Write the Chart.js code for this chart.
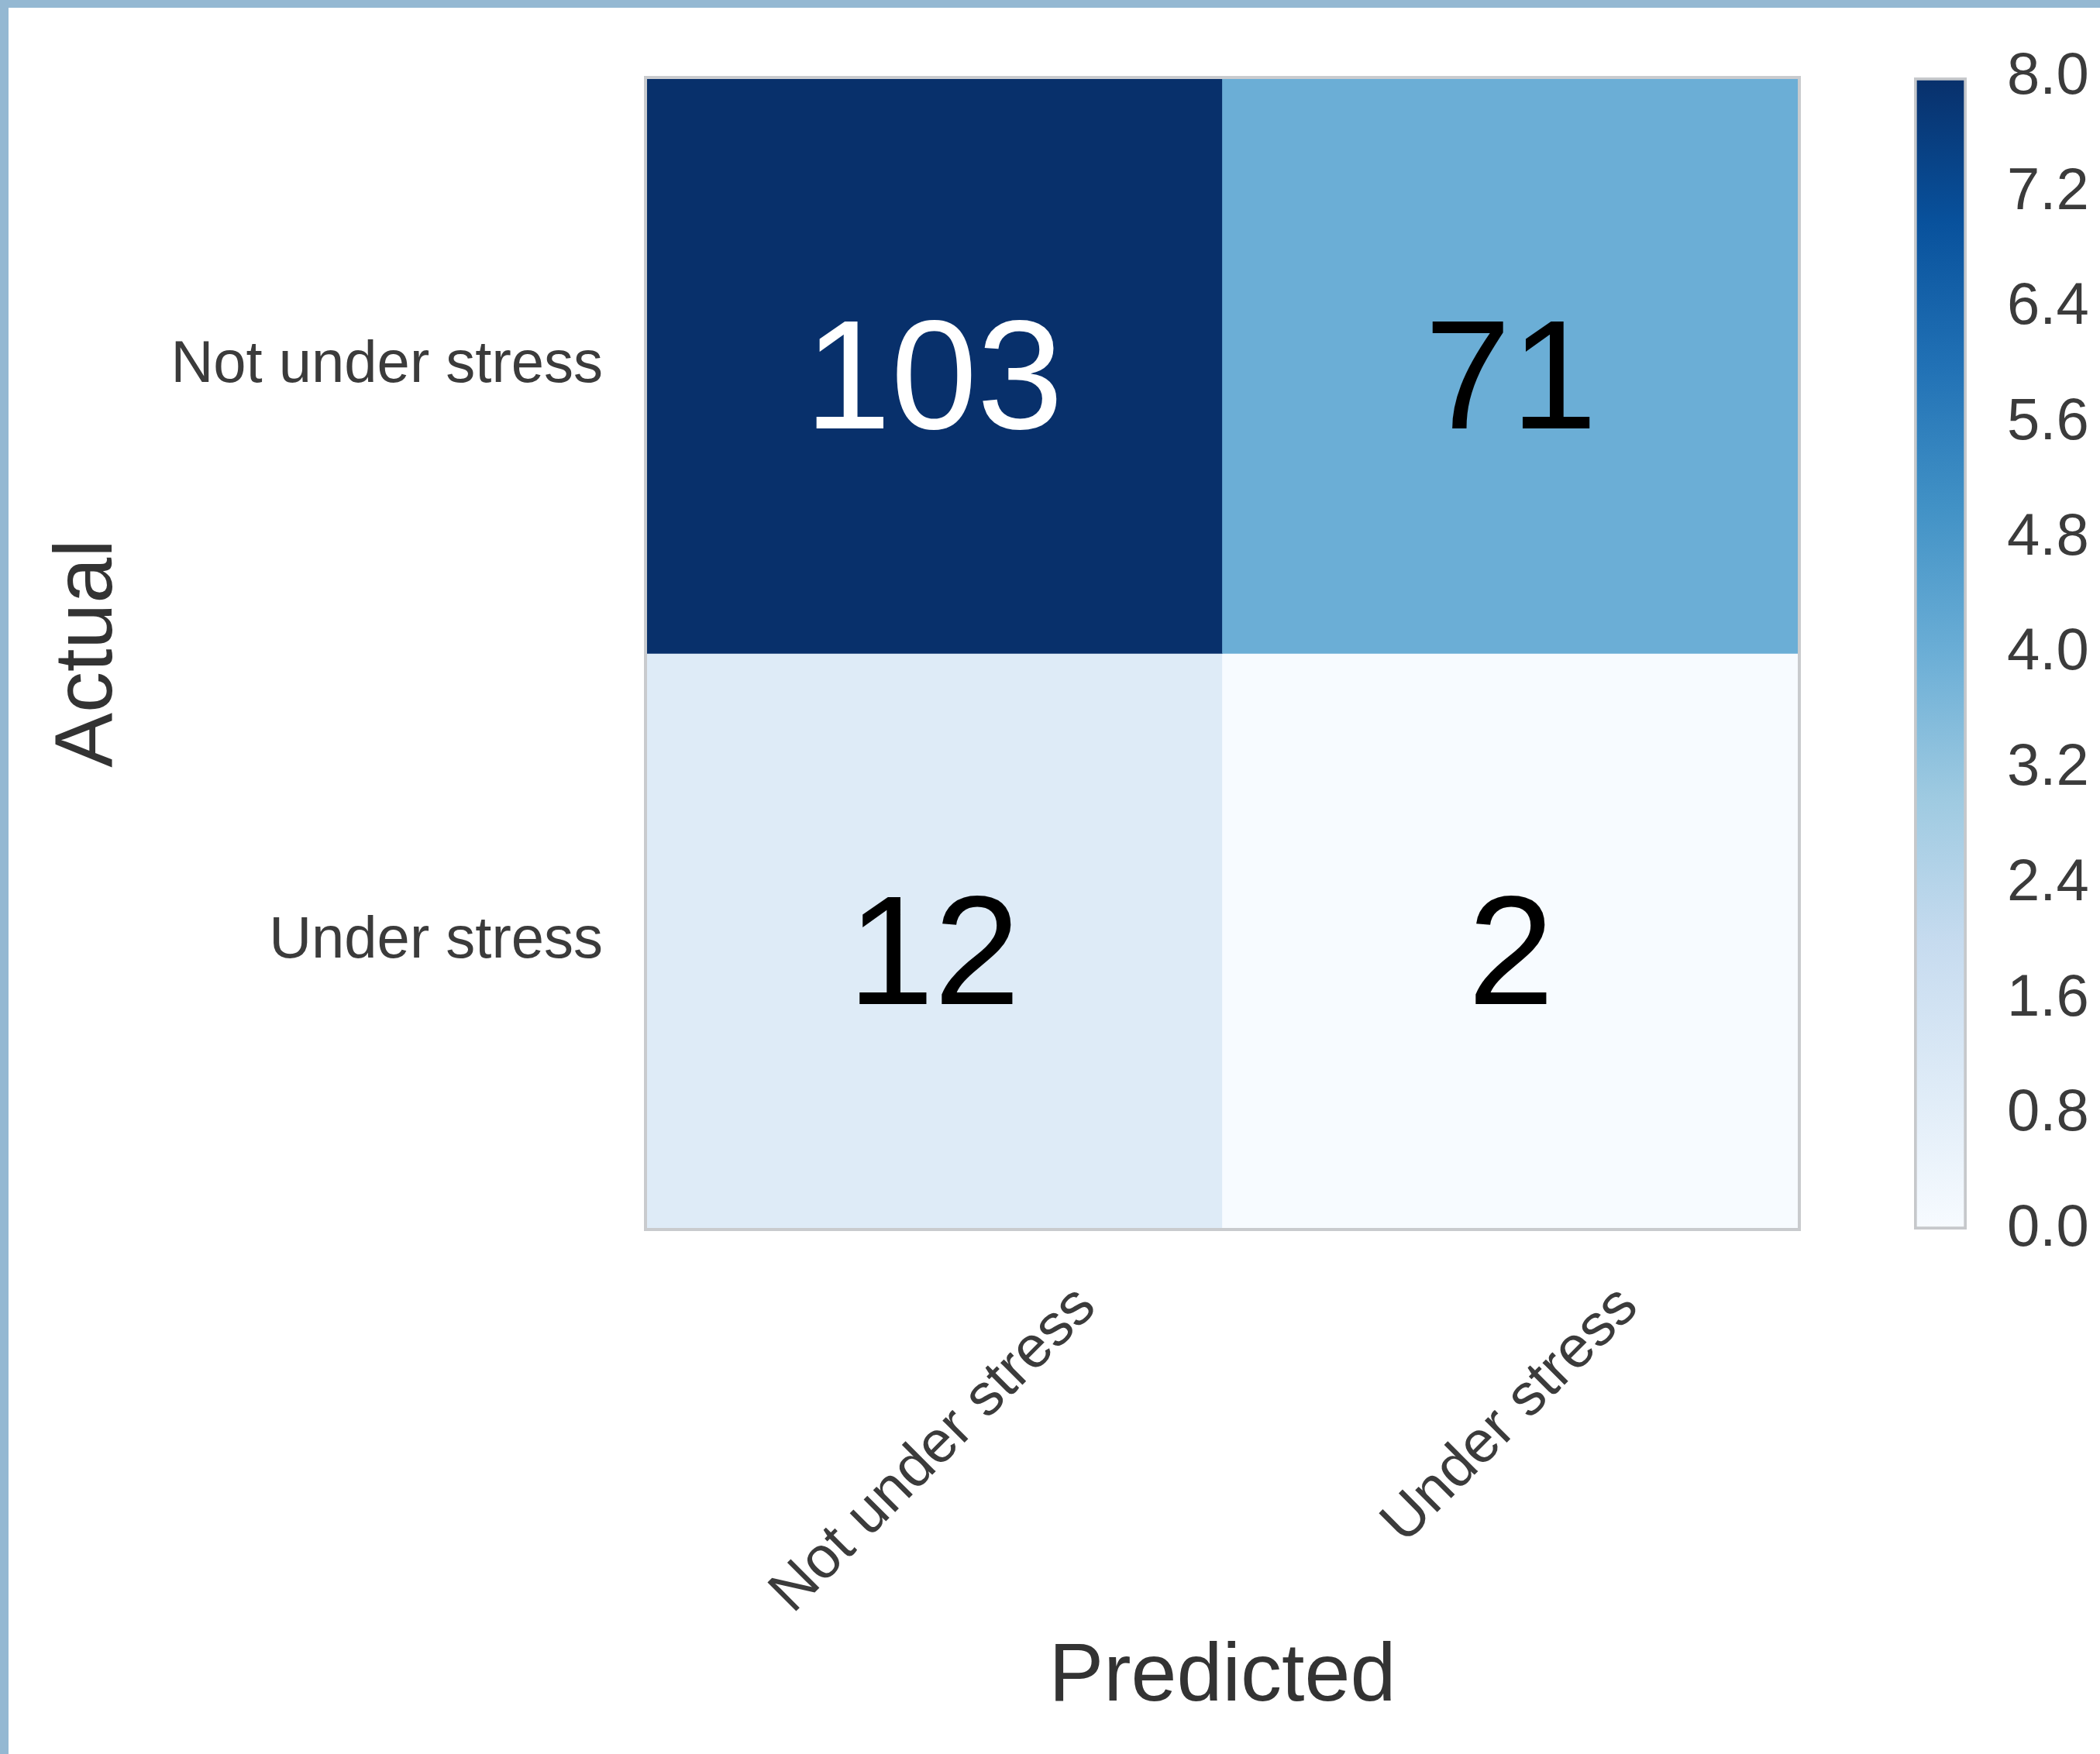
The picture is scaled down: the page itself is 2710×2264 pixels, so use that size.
<!DOCTYPE html>
<html>
<head>
<meta charset="utf-8">
<title>Confusion matrix</title>
<script src="https://cdn.jsdelivr.net/npm/chart.js@4.4.1/dist/chart.umd.min.js"></script>
<style>
  html, body { margin: 0; padding: 0; }
  body { width: 2710px; height: 2264px; background: #94b8d2; position: relative; overflow: hidden; }
  #sheet { position: absolute; left: 11px; top: 10px; width: 2699px; height: 2254px; background: #fff; }
  #heatmap { position: absolute; left: 0; top: 0; }
  #colorbar { position: absolute; left: 2429px; top: 0; }
</style>
</head>
<body>
<div id="sheet">
  <canvas id="heatmap" width="2429" height="2254"></canvas>
  <canvas id="colorbar" width="270" height="2254"></canvas>
</div>
<script>
// Confusion matrix — heatmap + colorbar

const rowLabels = ["Not under stress", "Under stress"];   // actual
const colLabels = ["Not under stress", "Under stress"];   // predicted
// colour value of each cell (0 - 8)
const cellValues = [[8, 4], [1, 0]];
// numbers written on the cells
const cellLabels = [[103, 71], [12, 2]];
const colorbarTicks = [0, 0.8, 1.6, 2.4, 3.2, 4.0, 4.8, 5.6, 6.4, 7.2, 8.0];
const cbMin = 0, cbMax = 8;

const BLUES = ["#f7fbff", "#deebf7", "#c6dbef", "#9ecae1", "#6baed6", "#4292c6", "#2171b5", "#08519c", "#08306b"];
const FONT = "'Liberation Sans', Arial, Helvetica, sans-serif";
const TICK_COLOR = "#3b3b3b";
const TITLE_COLOR = "#333333";

function hexToRgb(h) {
  const n = parseInt(h.slice(1), 16);
  return [(n >> 16) & 255, (n >> 8) & 255, n & 255];
}

function blues(t) {
  t = Math.min(1, Math.max(0, t));
  const pos = t * (BLUES.length - 1);
  const i = Math.min(Math.floor(pos), BLUES.length - 2);
  const f = pos - i;
  const a = hexToRgb(BLUES[i]), b = hexToRgb(BLUES[i + 1]);
  const c = a.map((v, k) => Math.round(v + (b[k] - v) * f));
  return `rgb(${c[0]},${c[1]},${c[2]})`;
}

// keep the tick labels from pushing the plot area around
function fixWidth(w) {
  return s => {
    s.width = w;
    s.paddingTop = 0;
    s.paddingBottom = 0;
  };
}

// outline round the whole matrix
const frame = {
  id: "frame",
  afterDatasetsDraw(chart) {
    const { ctx, chartArea: a } = chart;
    ctx.save();
    ctx.strokeStyle = "#c9cbce";
    ctx.lineWidth = 4;
    ctx.strokeRect(a.left, a.top, a.right - a.left, a.bottom - a.top);
    ctx.restore();
  }
};

// numbers in the cells
const cellText = {
  id: "cellText",
  afterDatasetsDraw(chart) {
    const { ctx, scales: { x, y } } = chart;
    ctx.save();
    ctx.font = `200px ${FONT}`;
    ctx.textAlign = "center";
    ctx.textBaseline = "middle";
    cellLabels.forEach((row, r) => row.forEach((v, j) => {
      ctx.fillStyle = cellValues[r][j] > (cbMin + cbMax) / 2 ? "#ffffff" : "#000000";
      ctx.fillText(String(v), x.getPixelForValue(j), y.getPixelForValue(r + 0.5) + 26);
    }));
    ctx.restore();
  }
};

// x tick labels, rotated 45° and centred on the tick (matplotlib style)
const xLabels = {
  id: "xLabels",
  afterDraw(chart) {
    const { ctx, chartArea: a, scales: { x } } = chart;
    ctx.save();
    ctx.font = `76px ${FONT}`;
    ctx.fillStyle = TICK_COLOR;
    ctx.textAlign = "center";
    ctx.textBaseline = "middle";
    x.getLabels().forEach((label, j) => {
      const w = ctx.measureText(label).width;
      const side = (w + 56) * Math.SQRT1_2;
      ctx.save();
      ctx.translate(x.getPixelForValue(j), a.bottom + 68 + side / 2);
      ctx.rotate(-Math.PI / 4);
      ctx.fillText(label, 0, 0);
      ctx.restore();
    });
    ctx.restore();
  }
};

new Chart(document.getElementById("heatmap"), {
  type: "bar",
  data: {
    labels: colLabels,
    datasets: rowLabels.map((row, r) => ({
      label: row,
      data: colLabels.map(() => [r, r + 1]),
      backgroundColor: colLabels.map((c, j) => blues((cellValues[r][j] - cbMin) / (cbMax - cbMin))),
      borderWidth: 0,
      barPercentage: 1,
      categoryPercentage: 1,
      grouped: false
    }))
  },
  options: {
    responsive: false,
    animation: false,
    devicePixelRatio: 1,
    layout: { padding: { top: 90, right: 118, bottom: 0, left: 0 } },
    plugins: { legend: { display: false }, tooltip: { enabled: false } },
    scales: {
      x: {
        grid: { display: false, drawTicks: false },
        border: { display: false },
        ticks: { display: false },
        title: {
          display: true, text: "Predicted", color: TITLE_COLOR,
          font: { family: FONT, size: 106 }, padding: { top: 0, bottom: 35 }
        },
        afterFit: s => { s.height = 677; s.paddingLeft = 0; s.paddingRight = 0; }
      },
      y: {
        min: 0, max: 2, reverse: true,
        grid: { display: false, drawTicks: false },
        border: { display: false },
        afterBuildTicks: s => { s.ticks = rowLabels.map((_, i) => ({ value: i + 0.5 })); },
        ticks: {
          padding: 55, color: TICK_COLOR, font: { family: FONT, size: 76 },
          callback: (v, i) => rowLabels[i]
        },
        title: {
          display: true, text: "Actual", color: TITLE_COLOR,
          font: { family: FONT, size: 106 }, padding: { top: 40, bottom: 0 }
        },
        afterFit: fixWidth(822)
      }
    }
  },
  plugins: [frame, cellText, xLabels]
});

function colorbarFill(context) {
  const chart = context.chart;
  if (!chart.chartArea) return BLUES[0];
  const y = chart.scales.y;
  const g = chart.ctx.createLinearGradient(0, y.getPixelForValue(cbMin), 0, y.getPixelForValue(cbMax));
  BLUES.forEach((c, i) => g.addColorStop(i / (BLUES.length - 1), c));
  return g;
}

new Chart(document.getElementById("colorbar"), {
  type: "bar",
  data: {
    labels: [""],
    datasets: [{
      data: [[cbMin, cbMax]],
      backgroundColor: colorbarFill,
      borderColor: "#c6c8cb",
      borderWidth: 4,
      borderSkipped: false,
      barPercentage: 1,
      categoryPercentage: 1
    }]
  },
  options: {
    responsive: false,
    animation: false,
    devicePixelRatio: 1,
    layout: { padding: { top: 90, right: 0, bottom: 677, left: 30 } },
    plugins: { legend: { display: false }, tooltip: { enabled: false } },
    scales: {
      x: { display: false },
      y: {
        position: "right",
        min: cbMin, max: cbMax,
        grid: { display: false, drawTicks: false },
        border: { display: false },
        afterBuildTicks: s => { s.ticks = colorbarTicks.map(v => ({ value: v })); },
        ticks: {
          padding: 52, color: TICK_COLOR, font: { family: FONT, size: 76 },
          callback: v => v.toFixed(1)
        },
        afterFit: fixWidth(172)
      }
    }
  }
});
</script>
</body>
</html>
